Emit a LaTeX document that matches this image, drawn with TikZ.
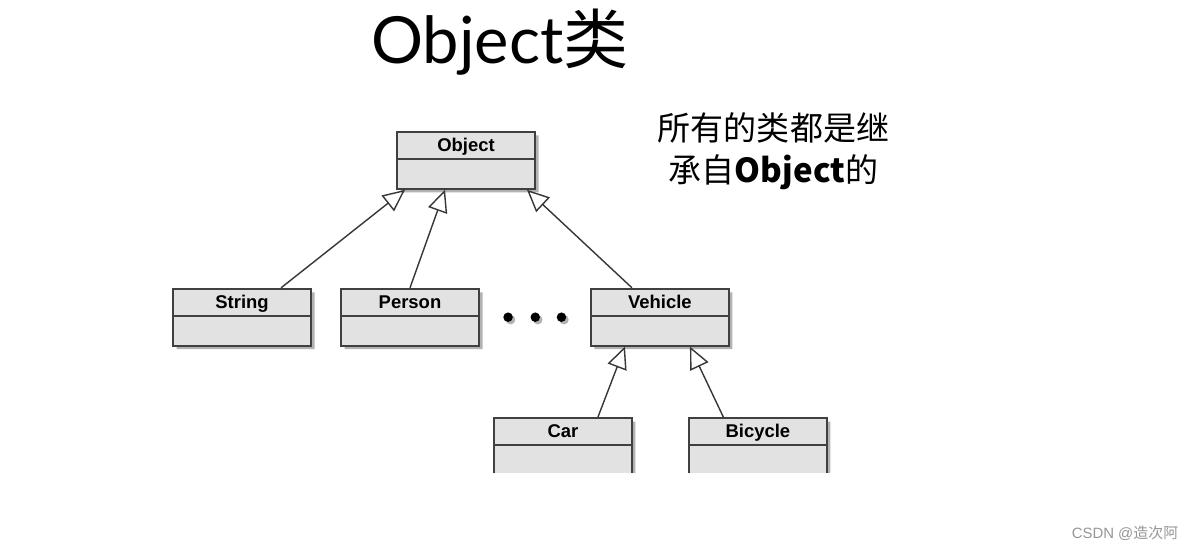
\documentclass[tikz,border=0pt]{standalone}
\usepackage{fontspec}
\setmainfont{Liberation Sans}
\newfontfamily\cjk{Noto Sans CJK SC}
\newfontfamily\titlefont{Lato}
\usepackage{tikz}
\usetikzlibrary{arrows.meta,positioning,shapes,shadows}
\usepackage{xcolor}
\definecolor{boxfill}{RGB}{226,226,226}
\definecolor{boxline}{RGB}{64,64,64}
\definecolor{arrowgray}{RGB}{55,55,55}
\definecolor{markgray}{RGB}{150,150,150}
\newcommand{\clsbody}[1]{\rule[-0.13cm]{0pt}{0.5cm}#1\nodepart{two}\rule{0pt}{0.56cm}}

\begin{document}
\begin{tikzpicture}[
    cls/.style={rectangle split,rectangle split parts=2,draw=boxline,fill=boxfill,line width=1.1pt,
      text width=2.6cm,align=center,inner xsep=0.08cm,inner ysep=0pt,
      font=\fontsize{10.5}{12}\selectfont\bfseries,
      drop shadow={shadow xshift=0.07cm,shadow yshift=-0.07cm,fill=black,opacity=0.3}},
    inh/.style={-{Triangle[open,length=0.44cm,width=0.4cm]},draw=arrowgray,line width=0.8pt},
    dot/.style={circle,fill=black,inner sep=0pt,minimum size=0.19cm,
      drop shadow={shadow xshift=0.05cm,shadow yshift=-0.05cm,fill=black,opacity=0.3}}
]
\useasboundingbox[fill=white] (0,0) rectangle (23.82,-11);

\node (title) at (10.0,-0.84) {\fontsize{37}{40}\selectfont{\titlefont Object}{\cjk 类}};
\node[align=center,font=\fontsize{18.8}{24}\selectfont\cjk] (note) at (15.47,-3.02)
  {所有的类都是继\\承自\textbf{Object}的};

\node[cls,anchor=north] (obj) at (9.32,-2.62) {\clsbody{Object}};
\node[cls,below left=1.96cm and 1.68cm of obj] (str) {\clsbody{String}};
\node[cls,right=0.56cm of str] (per) {\clsbody{Person}};
\node[cls,below right=1.96cm and 1.08cm of obj] (veh) {\clsbody{Vehicle}};

\node[dot,right=0.46cm of per] (d1) {};
\node[dot,right=0.34cm of d1] (d2) {};
\node[dot,right=0.32cm of d2] (d3) {};

% bottom row is cut off in the slide
\begin{scope}
\clip (0,0) rectangle (23.82,-9.44);
\node[cls,below=1.41cm of veh,xshift=-1.94cm] (car) {\clsbody{Car}};
\node[cls,right=1.1cm of car] (bic) {\clsbody{Bicycle}};
\end{scope}

\draw[inh] ([xshift=0.78cm]str.north) -- ([xshift=-1.22cm]obj.south);
\draw[inh] (per.north) -- ([xshift=-0.42cm]obj.south);
\draw[inh] ([xshift=-0.56cm]veh.north) -- ([xshift=1.22cm]obj.south);
\draw[inh] ([xshift=0.7cm]car.north) -- ([xshift=-0.7cm]veh.south);
\draw[inh] ([xshift=-0.69cm]bic.north) -- ([xshift=0.6cm]veh.south);

\node[text=markgray,font=\fontsize{8.5}{10}\selectfont] (mark) at (22.5,-10.66) {CSDN @{\cjk 造次阿}};
\end{tikzpicture}
\end{document}
